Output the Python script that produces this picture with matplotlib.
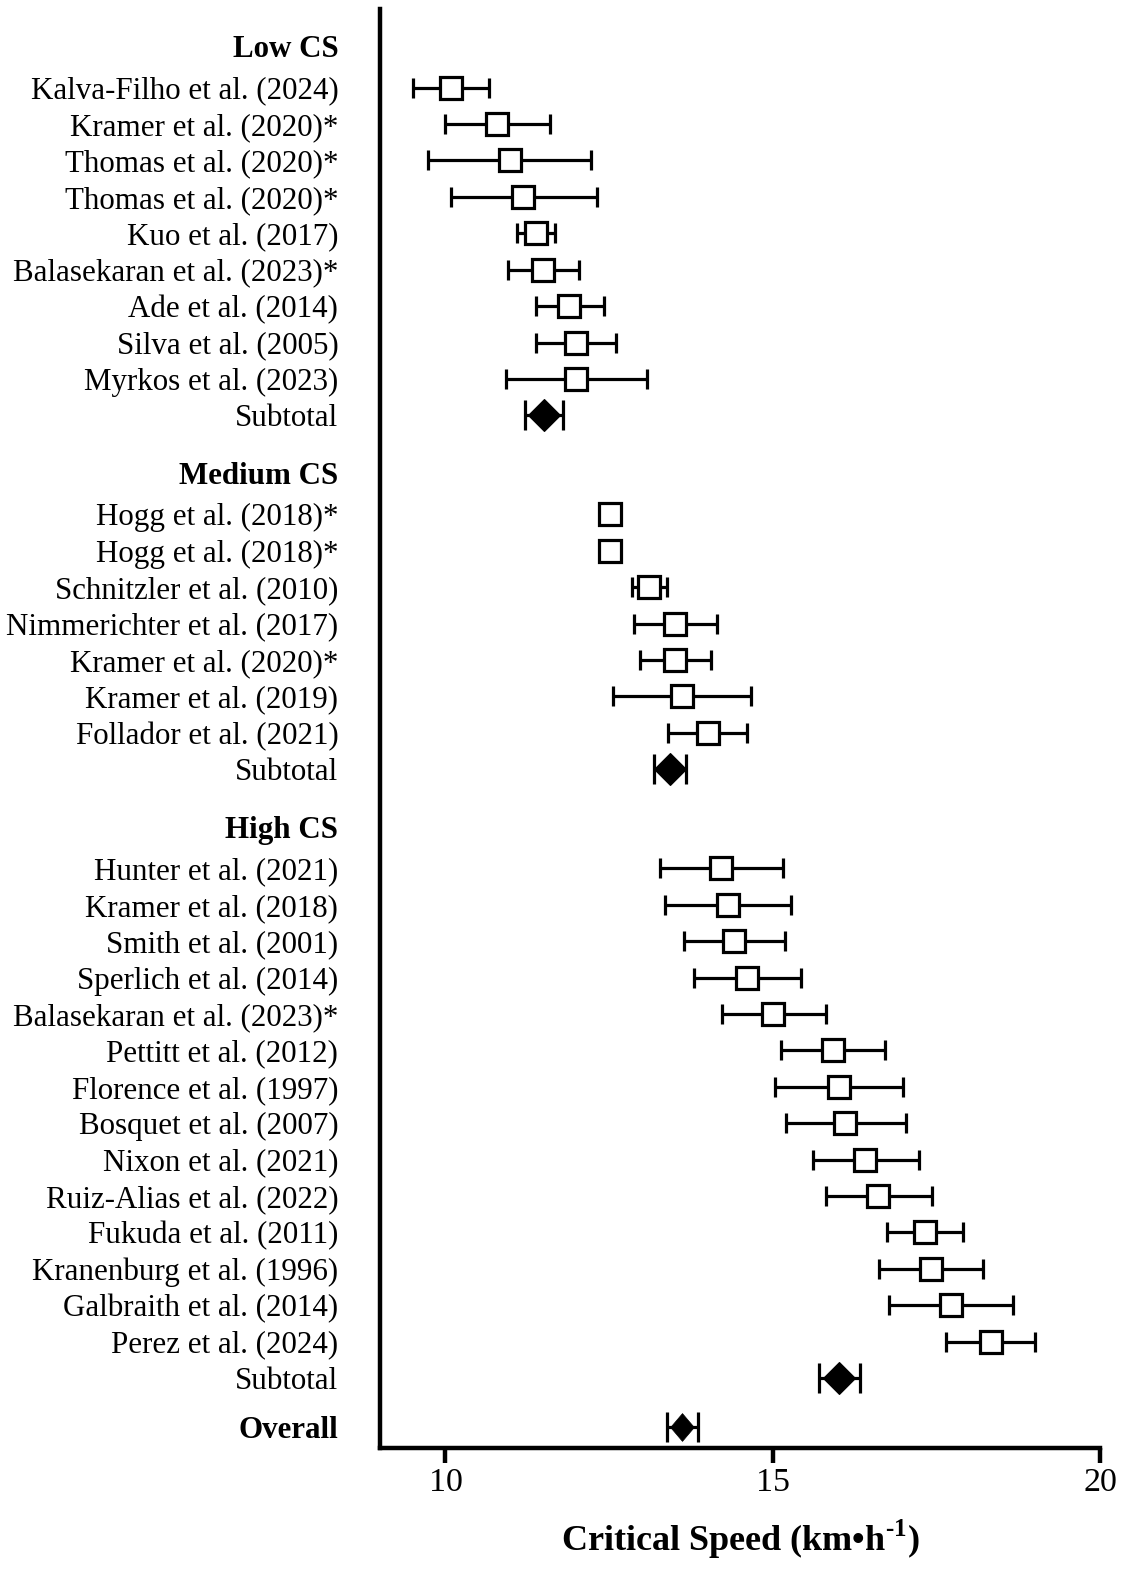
"""
Forest plot of critical speed (km/h) grouped by Low / Medium / High CS.
"""

import matplotlib.pyplot as plt

plt.rcParams['font.family'] = ['Liberation Serif', 'DejaVu Serif']
plt.rcParams['mathtext.fontset'] = 'custom'
plt.rcParams['mathtext.rm'] = 'Liberation Serif:bold'
plt.rcParams['mathtext.bf'] = 'Liberation Serif:bold'

# --- data (mean, lower CI, upper CI) ---------------------------------------
low_studies = ['Kalva-Filho et al. (2024)', 'Kramer et al. (2020)*', 'Thomas et al. (2020)*',
               'Thomas et al. (2020)*', 'Kuo et al. (2017)', 'Balasekaran et al. (2023)*',
               'Ade et al. (2014)', 'Silva et al. (2005)', 'Myrkos et al. (2023)']
low_cs = [10.09, 10.78, 10.98, 11.19, 11.39, 11.49, 11.88, 11.99, 11.99]
low_lo = [9.51, 10.00, 9.74, 10.08, 11.10, 10.96, 11.38, 11.39, 10.93]
low_hi = [10.67, 11.59, 12.22, 12.31, 11.67, 12.04, 12.42, 12.60, 13.08]
low_sub = [11.50, 11.21, 11.79]

med_studies = ['Hogg et al. (2018)*', 'Hogg et al. (2018)*', 'Schnitzler et al. (2010)',
               'Nimmerichter et al. (2017)', 'Kramer et al. (2020)*', 'Kramer et al. (2019)',
               'Follador et al. (2021)']
med_cs = [12.51, 12.51, 13.11, 13.51, 13.51, 13.61, 14.01]
med_lo = [12.45, 12.45, 12.85, 12.88, 12.97, 12.56, 13.40]
med_hi = [12.57, 12.57, 13.38, 14.15, 14.06, 14.67, 14.61]
med_sub = [13.43, 13.19, 13.68]

high_studies = ['Hunter et al. (2021)', 'Kramer et al. (2018)', 'Smith et al. (2001)',
                'Sperlich et al. (2014)', 'Balasekaran et al. (2023)*', 'Pettitt et al. (2012)',
                'Florence et al. (1997)', 'Bosquet et al. (2007)', 'Nixon et al. (2021)',
                'Ruiz-Alias et al. (2022)', 'Fukuda et al. (2011)', 'Kranenburg et al. (1996)',
                'Galbraith et al. (2014)', 'Perez et al. (2024)']
high_cs = [14.21, 14.31, 14.41, 14.61, 15.01, 15.92, 16.02, 16.11, 16.41, 16.61,
           17.32, 17.42, 17.72, 18.33]
high_lo = [13.28, 13.35, 13.65, 13.80, 14.22, 15.13, 15.04, 15.21, 15.61, 15.81,
           16.75, 16.63, 16.77, 17.64]
high_hi = [15.15, 15.28, 15.18, 15.43, 15.81, 16.71, 16.99, 17.03, 17.23, 17.44,
           17.90, 18.22, 18.67, 19.00]
high_sub = [16.02, 15.71, 16.34]

overall = [13.62, 13.38, 13.86]

groups = [('Low CS', low_studies, low_cs, low_lo, low_hi, low_sub),
          ('Medium CS', med_studies, med_cs, med_lo, med_hi, med_sub),
          ('High CS', high_studies, high_cs, high_lo, high_hi, high_sub)]

# --- layout -----------------------------------------------------------------
fig = plt.figure(figsize=(11.23, 15.69), dpi=100)
ax = fig.add_axes([380 / 1123, 121 / 1569, 720 / 1123, 1439 / 1569])

LW = 2.3
sq_style = dict(fmt='s', ms=15.5, mfc='white', mec='black', mew=LW,
                ecolor='black', elinewidth=LW, capsize=7.5, capthick=LW)
bar_style = dict(fmt='none', ecolor='black', elinewidth=LW, capsize=10.5, capthick=LW)


def err(m, l, h):
    return [[m - l], [h - m]]


ticks, labels, bold = [], [], []
y = 0.0
for gi, (title, studies, cs, lo, hi, sub) in enumerate(groups):
    ticks.append(y)
    labels.append(title)
    bold.append(True)
    y += 1.14
    for name, m, l, h in zip(studies, cs, lo, hi):
        ax.errorbar(m, y, xerr=err(m, l, h), **sq_style)
        ticks.append(y)
        labels.append(name)
        bold.append(False)
        y += 1
    ax.errorbar(sub[0], y, xerr=err(*sub), **bar_style)
    ax.plot(sub[0], y, marker='D', ms=16.5, color='black', mew=0.8, zorder=3)
    ticks.append(y)
    labels.append('Subtotal')
    bold.append(False)
    y += 1.58 if gi < len(groups) - 1 else 1.35

# overall estimate, a narrower diamond
ov_marker = [(0, 1), (0.85, 0), (0, -1), (-0.85, 0), (0, 1)]
ax.errorbar(overall[0], y, xerr=err(*overall), **bar_style)
ax.plot(overall[0], y, marker=ov_marker, ms=20, color='black', mew=0.5, zorder=3)
ticks.append(y)
labels.append('Overall')
bold.append(True)

ax.set_ylim(y + 0.57, -1.02)
ax.set_xlim(9, 20)

ax.set_yticks(ticks)
ax.set_yticklabels(labels, fontsize=22.3)
for lab, b in zip(ax.get_yticklabels(), bold):
    if b:
        lab.set_fontweight('bold')
ax.tick_params(axis='y', length=0, pad=30)

ax.set_xticks([10, 15, 20])
ax.tick_params(axis='x', length=11, width=3.2, labelsize=24.5, pad=3)
ax.set_xlabel(r'Critical Speed (km•h$^{\text{-1}}$)', fontsize=26, fontweight='bold',
              labelpad=14)

for side in ['top', 'right']:
    ax.spines[side].set_visible(False)
for side in ['left', 'bottom']:
    ax.spines[side].set_linewidth(3.2)

fig.savefig('out.png', dpi=100)
